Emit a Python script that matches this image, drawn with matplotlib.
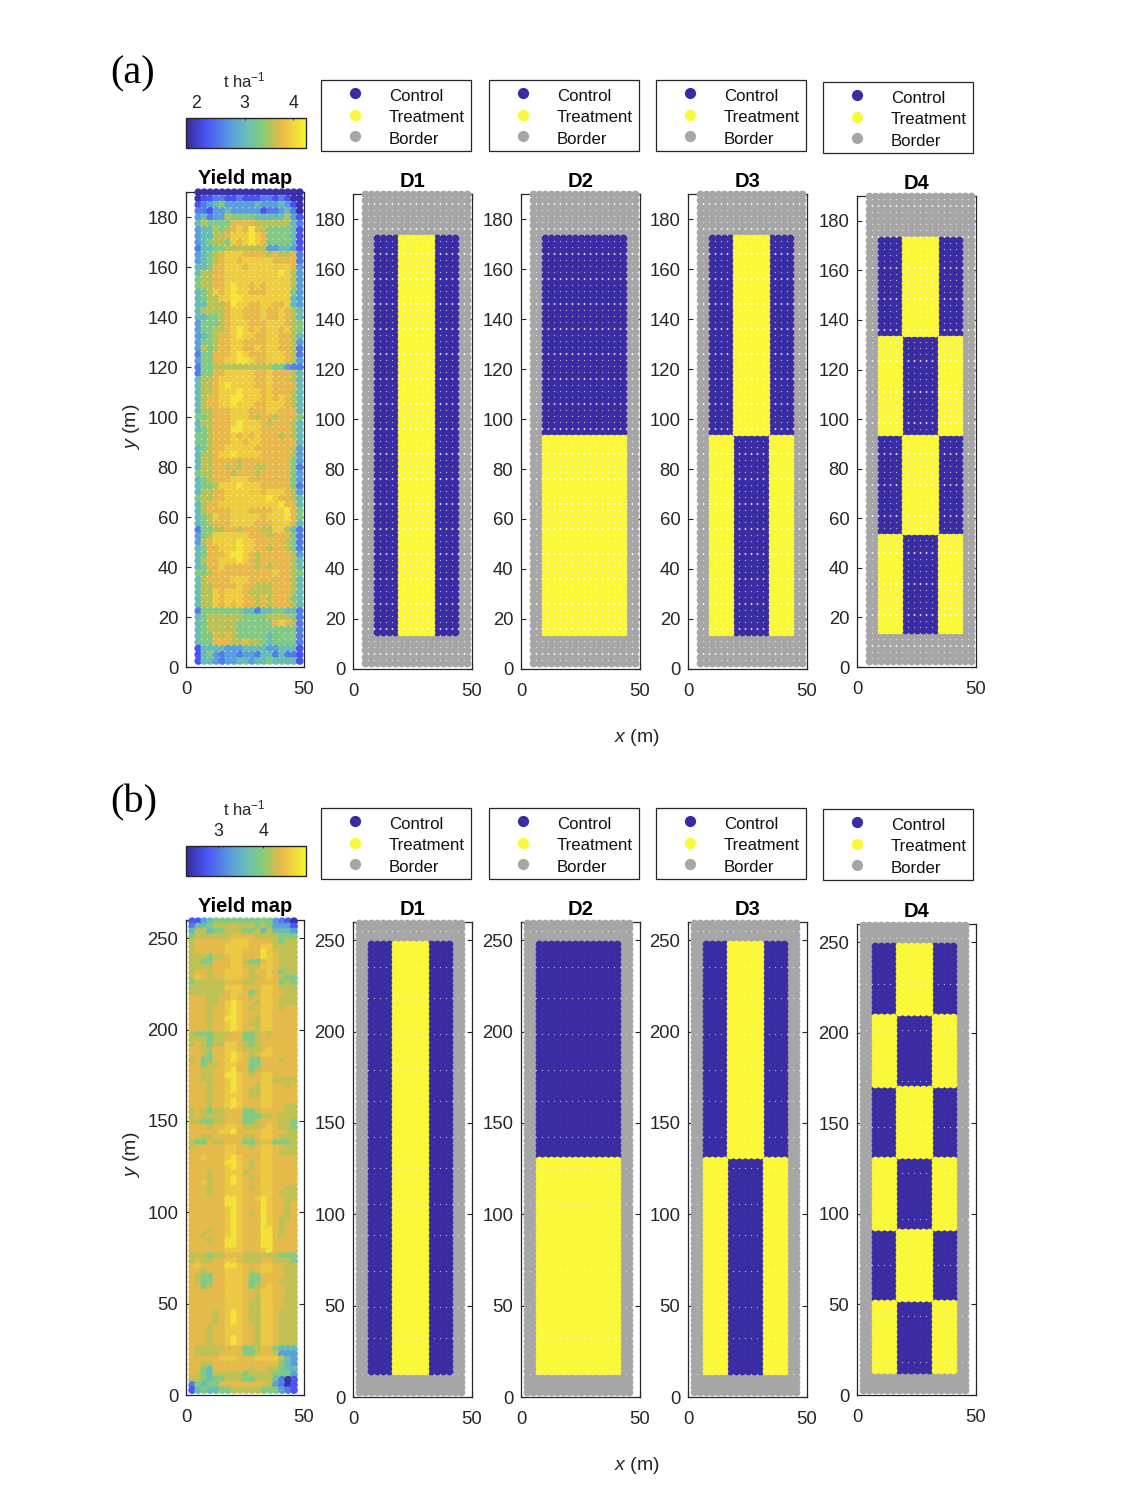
import matplotlib
matplotlib.use("Agg")
import numpy as np
import matplotlib.pyplot as plt
from matplotlib.colors import LinearSegmentedColormap

plt.rcParams['font.family'] = ['Liberation Sans', 'DejaVu Sans']
plt.rcParams['mathtext.fontset'] = 'custom'
plt.rcParams['mathtext.rm'] = 'Liberation Sans'
plt.rcParams['mathtext.it'] = 'Liberation Sans:italic'
plt.rcParams['mathtext.bf'] = 'Liberation Sans:bold'
plt.rcParams['mathtext.default'] = 'regular'

# Yield, one digit per plot, top row first; the digit indexes the level list
levels_a = [1.87, 2.20, 2.49, 2.73, 3.03, 3.32, 3.56, 3.76, 3.93, 4.12]
levels_b = [2.37, 2.74, 3.03, 3.29, 3.61, 3.93, 4.20, 4.38, 4.53, 4.75]

yield_a_rows = [
"000000000000000000","011221121112212100","123453333343334310","221334333331223420",
"342336555544444631","465555777766666642","344656787976555541","344667888987555541",
"345665878987555541","244556666666334431","345678887777676672","345678878888877772",
"445778887888888873","466778888888889863","566778888888888863","566778988787888863",
"456878988777888853","456688998888888843","446667988778877843","466667887778778764",
"445567887778778764","355567888777888765","355667898787887865","345677898877887764",
"355677887777887763","365677887787887762","255777898777888762","355778899877888763",
"255666666666655322","255778888877877764","466788888877877764","466789888877877774",
"466788898887877764","467788998887878764","467788988877888764","466777888777887774",
"556777888767767775","466777898887677764","456777998887777764","556777878787776764",
"556777887887777774","456778888877777763","466788988887777763","466777767777777753",
"466776767766777752","566777677767777753","456777888777777753","455688898887777752",
"466778888887888763","566778888888987764","467788888888889774","467777888777788975",
"456877888887888975","456777888877788874","255667767776688642","356888888777677752",
"367888898877777652","457788898877677652","457778998767777763","467788898767777764",
"457787777767677764","556777777777787765","467777888777777764","466777787766677764",
"466878887666677764","466878887767677754","466878787767677764","255555554424455442",
"456666665555666652","456666655555578762","456666655555555552","455767655555455552",
"455777667665455552","144443334444334441","145323323324424221","144323344344544441",
]

yield_b_rows = [
"113455555555553210","244566676665653331","466455666556464443","566666677776666555",
"677777788877776566","677777888877886666","677777888777987666","666566788777987666",
"665577788655787666","666677788766887666","677677888767787566","687677888766787655",
"566666777667777565","666666888777887666","666666788756887766","777667787767887666",
"777667898776887666","777677898767887677","777677898777887777","777677998776887777",
"777677898766887777","777677898776887777","655566677556767777","666566777556777777",
"676566887656777777","776677887666787777","776577898767887777","675577898755777677",
"775667887755777777","776677897756777777","776677998767887777","776677898777886666",
"777677898776887767","777677898766887777","777677888766887777","777677898777887777",
"777677898777887766","676566777556777766","676666777555667666","665566777556777665",
"777677887666787665","777778897777887766","776677777667887666","655766777556775556",
"677777887767887766","777777887777887666","778777898777887777","777777998767887777",
"777777898767887777","777677888677887777","777677898767887777","778677898777887777",
"777677888767887766","777677888777887666","777777998778987766","777777998777987767",
"777777898777987767","777777898767987767","777777898777987667","777777898777987677",
"777677898777997677","776777898777997677","777677998777997777","777777998777997777",
"777777888777897777","666566777666666555","676677887666776665","787777998777887766",
"776777888767887766","765577888755777766","765577888755777666","775677888756787766",
"777777888776887766","777777888776887766","777777888766887766","777777888766887766",
"777767898766887666","777767898766887666","777767898766887666","777677888776887666",
"777677888776887666","777677898776887666","777677898776887666","766666777556775444",
"766667777556776333","777778887778888643","776677777777777543","775477777767766544",
"765466666566665553","665455666556664201","254557777777763201","145445566666555321",
]

design_names = ["D1", "D2", "D3", "D4"]
# plot columns in each group of a block: border, outer, middle, outer, border
column_groups = [2, 4, 6, 4, 2]
# 0 control, 1 treatment; per block from top to bottom: (outer-left, middle, outer-right)
designs_a = {
    "D1": [(0, 1, 0)],
    "D2": [(0, 0, 0), (1, 1, 1)],
    "D3": [(0, 1, 0), (1, 0, 1)],
    "D4": [(0, 1, 0), (1, 0, 1), (0, 1, 0), (1, 0, 1)],
}
designs_b = {
    "D1": [(0, 1, 0)],
    "D2": [(0, 0, 0), (1, 1, 1)],
    "D3": [(0, 1, 0), (1, 0, 1)],
    "D4": [(0, 1, 0), (1, 0, 1), (0, 1, 0), (1, 0, 1), (0, 1, 0), (1, 0, 1)],
}
legend_labels = ["Control", "Treatment", "Border"]
xticks = [0, 50]
yticks_a = list(range(0, 181, 20))
yticks_b = list(range(0, 251, 50))
cbar_ticks_a = [2, 3, 4]
cbar_ticks_b = [3, 4]

C_CONTROL, C_TREAT, C_BORDER = "#3A2CA3", "#FAF838", "#A6A6A6"
INK = "#262626"
cmap = LinearSegmentedColormap.from_list("yield", [
    (0.00, "#352A9C"), (0.17, "#4A55F5"), (0.38, "#5A9FDC"), (0.52, "#6BC0B0"),
    (0.65, "#88CC78"), (0.72, "#BCC255"), (0.80, "#E8B94A"), (0.88, "#F0D040"),
    (1.00, "#F8F52E")])

W, H = 1125, 1500
fig = plt.figure(figsize=(W / 100, H / 100), dpi=100, facecolor="white")

def px_axes(l, r, t, b):
    return fig.add_axes([l / W, 1 - b / H, (r - l) / W, (b - t) / H])

def parse(rows, levels):
    bad = [(i, r) for i, r in enumerate(rows) if len(r) != 18]
    if bad:
        raise ValueError(str(bad))
    return np.array([[levels[int(c)] for c in r] for r in rows])

MS = 31

def style(ax, ylim, yticks):
    ax.set_xlim(0, 50)
    ax.set_ylim(*ylim)
    ax.set_xticks(xticks)
    ax.set_yticks(yticks)
    ax.tick_params(direction="in", top=True, right=True, length=3.6, width=0.8,
                   color=INK, labelcolor=INK, labelsize=13.3)
    ax.tick_params(axis="x", pad=10)
    ax.tick_params(axis="y", pad=5.5)
    for s in ax.spines.values():
        s.set_color(INK)
        s.set_linewidth(0.9)
        s.set_zorder(2)

def panel(rows, levels, designs, x0, dx, y0, dy, ylim, yticks, cticks, tops, pad_rows, panel_tag, tag_y,
          leg_tops, cbar_box, ylab_y, xlab_y):
    vals = parse(rows, levels)
    nrow = vals.shape[0]
    xs = x0 + dx * np.arange(18)
    ys = y0 + dy * np.arange(nrow)[::-1]
    X, Y = np.meshgrid(xs, ys)
    vmin, vmax = cbar_box[4], cbar_box[5]

    ax = px_axes(186, 304, tops[0][0], tops[0][1])
    sc = ax.scatter(X.ravel(), Y.ravel(), c=vals.ravel(), cmap=cmap, vmin=vmin, vmax=vmax,
                    s=MS, linewidths=0, clip_on=False, zorder=3)
    style(ax, ylim, yticks)
    ax.set_title("Yield map", fontsize=14.5, fontweight="bold", pad=5.5, color="black")

    cax = px_axes(cbar_box[0], cbar_box[1], cbar_box[2], cbar_box[3])
    cb = fig.colorbar(sc, cax=cax, orientation="horizontal")
    cb.set_ticks(cticks)
    cax.tick_params(axis="x", direction="in", top=True, bottom=False, labeltop=True, labelbottom=False,
                    length=1.5, width=0.6, color=INK, labelcolor=INK, labelsize=12.8, pad=4)
    cb.outline.set_edgecolor(INK)
    cb.outline.set_linewidth(1.0)
    fig.text(244 / W, 1 - (cbar_box[2] - 38) / H, "t ha$^{-1}$", fontsize=12, color=INK,
             ha="center", va="center")

    lefts = [353, 521, 688, 857]
    for k, name in enumerate(design_names):
        l = lefts[k]
        a = px_axes(l, l + 118.5, tops[k + 1][0], tops[k + 1][1])
        blocks = designs[name]
        inner = nrow - pad_rows[0] - pad_rows[1]
        per = inner // len(blocks)
        groups = np.cumsum([0] + column_groups)
        cat = np.full((nrow, 18), 2)
        for b, trip in enumerate(blocks):
            r0 = pad_rows[0] + b * per
            for g, v in enumerate(trip):
                cat[r0:r0 + per, groups[g + 1]:groups[g + 2]] = v
        handles = {}
        for v, col in zip([2, 0, 1], [C_BORDER, C_CONTROL, C_TREAT]):
            m = cat == v
            handles[v] = a.scatter(X[m], Y[m], c=col, s=MS, linewidths=0, clip_on=False, zorder=3)
        style(a, ylim, yticks)
        a.set_title(name, fontsize=14.5, fontweight="bold", pad=5, color="black")
        leg_l = [321, 489, 656, 823][k]
        leg = a.legend([handles[0], handles[1], handles[2]], legend_labels, loc="upper left",
                       bbox_to_anchor=(leg_l / W, 1 - leg_tops[k] / H), bbox_transform=fig.transFigure,
                       borderaxespad=0, fontsize=12.1, markerscale=1.45, scatterpoints=1,
                       scatteryoffsets=[0.42],
                       frameon=True, fancybox=False, framealpha=1, edgecolor=INK,
                       borderpad=0.38, handlelength=3.25, handletextpad=0.4, labelspacing=0.38)
        leg.get_frame().set_linewidth(0.9)
        for t in leg.get_texts():
            t.set_color("#111111")
            t.set_y(-2.5)

    fig.text(637 / W, 1 - xlab_y / H, "$\\it{x}$ (m)", fontsize=14, color=INK, ha="center", va="center")
    fig.text(132 / W, 1 - ylab_y / H, "$\\it{y}$ (m)", fontsize=14, color=INK, rotation=90,
             ha="center", va="center")
    fig.text(110 / W, 1 - tag_y / H, panel_tag, fontsize=29, family="Liberation Serif", color="black",
             ha="left", va="baseline")

panel(yield_a_rows, levels_a, designs_a, 5.2, 2.53, 2.4, 2.5, (0, 190), yticks_a, cbar_ticks_a,
      [(192, 667), (194, 669), (194, 669), (194, 669), (196, 667)], (7, 5), "(a)", 83,
      [80, 80, 80, 82], (186, 305.5, 118, 148, 1.8, 4.25), 427, 737)

panel(yield_b_rows, levels_b, designs_b, 2.6, 2.54, 2.7, 2.82, (0, 260), yticks_b, cbar_ticks_b,
      [(920, 1395), (922, 1397), (922, 1397), (922, 1397), (924, 1395)], (4, 4), "(b)", 812,
      [808, 808, 808, 809], (186, 305.5, 846, 876, 2.29, 4.93), 1155, 1465)

fig.savefig("out.png", dpi=100, facecolor="white")
